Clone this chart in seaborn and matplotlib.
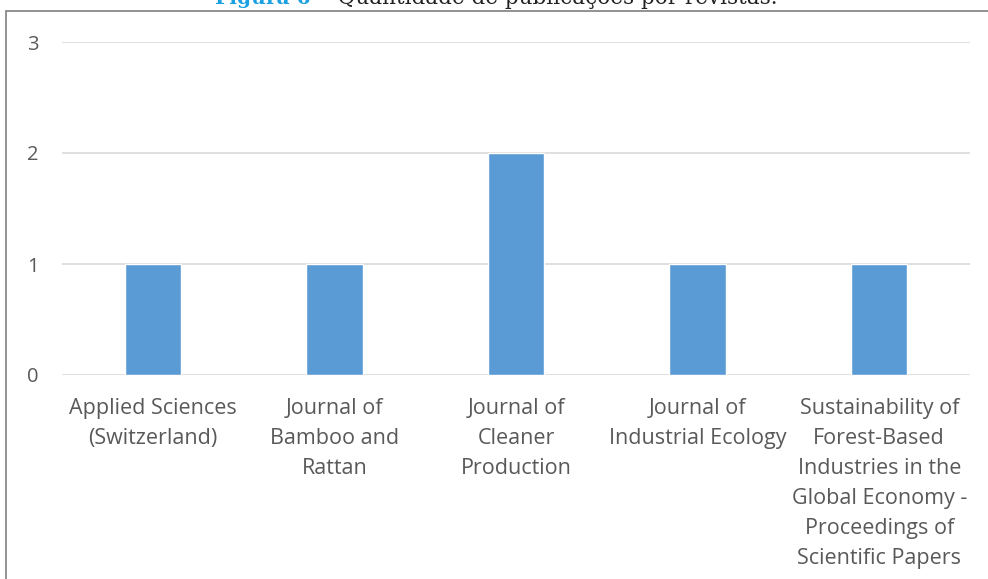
import matplotlib
matplotlib.use("Agg")
import matplotlib.pyplot as plt
import seaborn as sns
import pandas as pd
from matplotlib.patches import Rectangle

journals = [
    "Applied Sciences\n(Switzerland)",
    "Journal of\nBamboo and\nRattan",
    "Journal of\nCleaner\nProduction",
    "Journal of\nIndustrial Ecology",
    "Sustainability of\nForest-Based\nIndustries in the\nGlobal Economy -\nProceedings of\nScientific Papers",
]
counts = [1, 1, 2, 1, 1]
yticks = [0, 1, 2, 3]

sns.set_theme(style="white")
plt.rcParams['font.family'] = ['Open Sans', 'DejaVu Sans']

W, H = 988, 579
fig = plt.figure(figsize=(W / 100, H / 100), dpi=100)
ax = fig.add_axes([62 / W, 1 - 375 / H, (970 - 62) / W, (375 - 42) / H])

df = pd.DataFrame({"journal": journals, "count": counts})
sns.barplot(data=df, x="journal", y="count", color="#5B9BD5", width=0.31,
            saturation=1, ax=ax, zorder=3)

ax.set_ylim(0, 3)
ax.set_xlim(-0.5, len(journals) - 0.5)
ax.set_yticks(yticks)
ax.set_yticklabels([str(v) for v in yticks])
ax.grid(axis="y", color="#D9D9D9", linewidth=1.2, zorder=0)
ax.grid(axis="x", visible=False)
for s in ax.spines.values():
    s.set_visible(False)
ax.set_xlabel("")
ax.set_ylabel("")
ax.tick_params(axis="y", length=0, colors="#595959", labelsize=14.5, pad=17)
ax.tick_params(axis="x", length=0, colors="#595959", labelsize=15.5, pad=16.5)
for lbl in ax.get_xticklabels():
    lbl.set_linespacing(1.56)
    lbl.set_color("#595959")

# outer frame
fig.patches.append(Rectangle((6 / W, -0.05), (W + 20) / W, 1 - 11 / H + 0.05,
                             transform=fig.transFigure, fill=False,
                             edgecolor="#7F7F7F", linewidth=1.2))

# partly clipped caption at the top (as in the reference)
fig.text(311 / W, 1 - 4 / H, "Figura 6", ha="right", va="baseline",
         color="#1BA1E2", fontweight="bold", fontsize=14.5, family="DejaVu Serif")
fig.text(313 / W, 1 - 4 / H, "–  Quantidade de publicações por revistas.", ha="left",
         va="baseline", color="#222222", fontsize=15.5, family="DejaVu Serif")

fig.savefig("out.png", dpi=100)
